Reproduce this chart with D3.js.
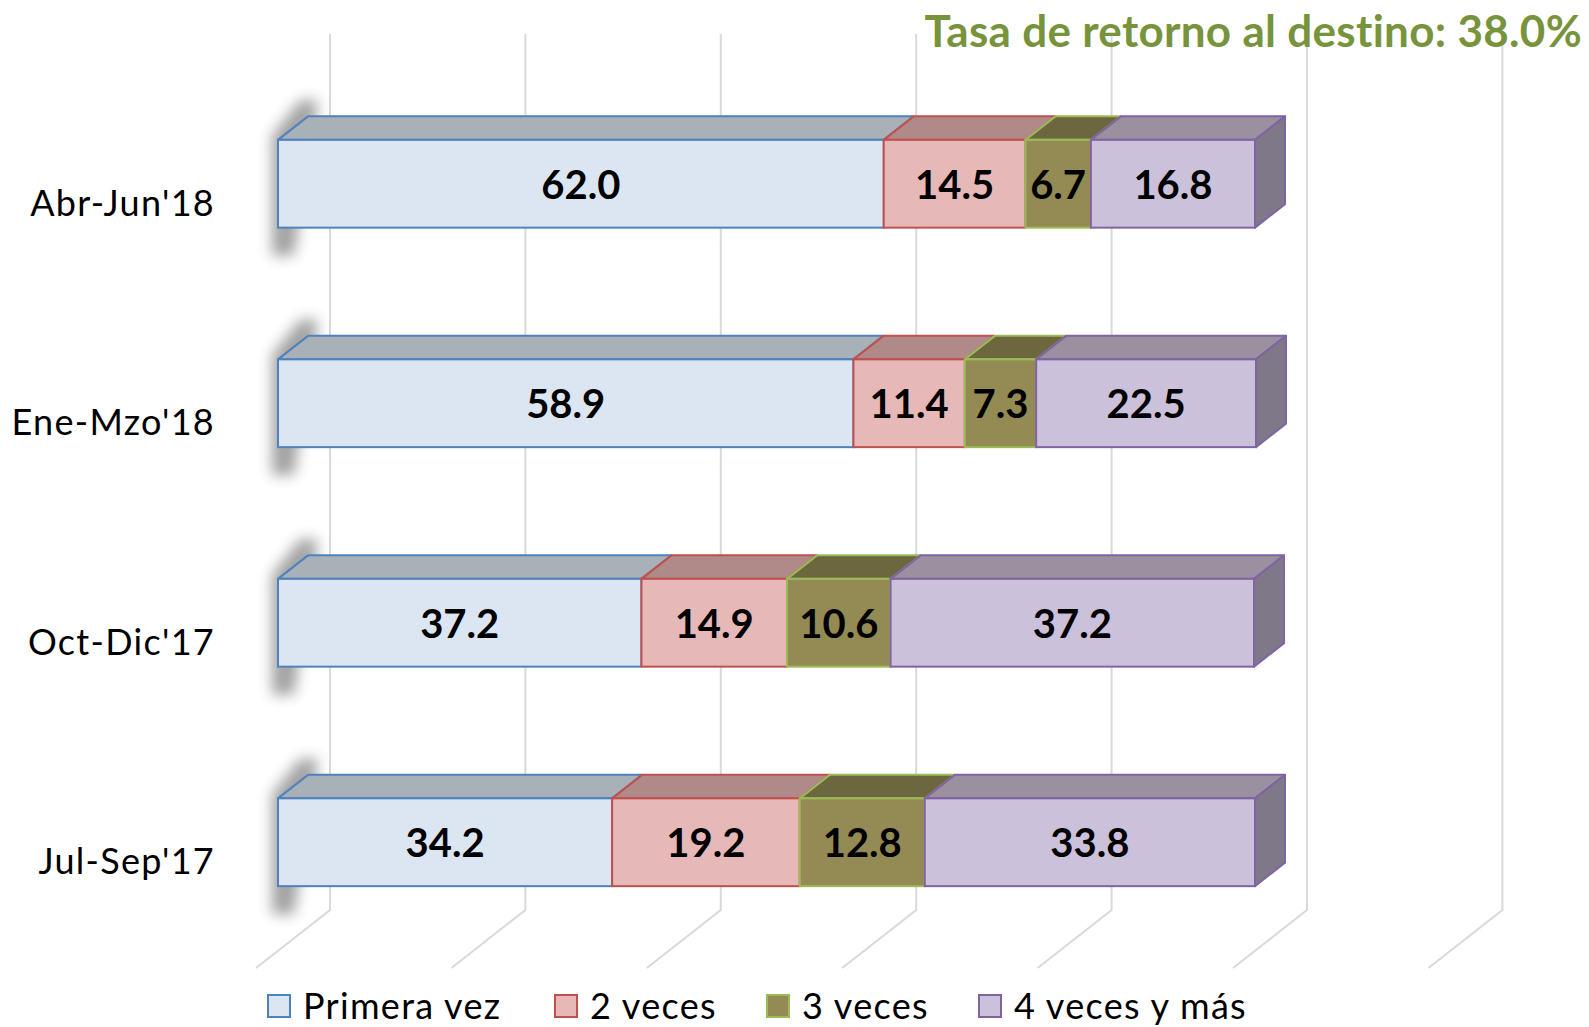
<!DOCTYPE html>
<html>
<head>
<meta charset="utf-8">
<script src="https://cdn.jsdelivr.net/npm/d3@7"></script>
<style>
  body { margin: 0; background: #fff; }
  text { font-family: Lato, "Open Sans", sans-serif; }
</style>
</head>
<body>
<div id="chart-area"></div>
<script>
// categories top to bottom
const categories = ["Abr-Jun'18", "Ene-Mzo'18", "Oct-Dic'17", "Jul-Sep'17"];
const seriesNames = ["Primera vez", "2 veces", "3 veces", "4 veces y más"];
const primeraVez = [62.0, 58.9, 37.2, 34.2];
const dosVeces = [14.5, 11.4, 14.9, 19.2];
const tresVeces = [6.7, 7.3, 10.6, 12.8];
const cuatroVeces = [16.8, 22.5, 37.2, 33.8];
const gridTicks = [0, 20, 40, 60, 80, 100, 120];
const titleText = "Tasa de retorno al destino: 38.0%";

const seriesValues = [primeraVez, dosVeces, tresVeces, cuatroVeces];
const frontColors = ["#DCE6F2", "#E6B9B8", "#948A54", "#CCC1DA"];
const topColors = ["#A8B0B8", "#B08A89", "#6D6740", "#9A909F"];
const sideColors = ["#7E8893", "#8C6A69", "#58532F", "#7F7889"];
const strokeColors = ["#4F81BD", "#C0504D", "#9BBB59", "#8064A2"];

const svgWidth = 1589;
const svgHeight = 1027;
const svg = d3.select("#chart-area")
              .append("svg")
              .attr("width", svgWidth)
              .attr("height", svgHeight);

const x = d3.scaleLinear()
            .domain([0, 120])
            .range([278, 1450.4]);

const y = d3.scaleBand()
            .domain(categories)
            .range([74, 952])
            .paddingInner(0.6)
            .paddingOuter(0.3);

// oblique depth vectors
const depth = { dx: 30, dy: 23.5 };
const wall = { dx: 52, dy: 41 };
const floorFront = { dx: -22, dy: -17 };
const wallTop = 34;
const wallBottom = 910;

const defs = svg.append("defs");
defs.append("filter")
    .attr("id", "blur")
    .attr("x", "-100%").attr("y", "-50%")
    .attr("width", "300%").attr("height", "200%")
    .append("feGaussianBlur")
    .attr("stdDeviation", 7);

// gridlines: on the back wall, then down across the floor
const grid = svg.append("g");
grid.selectAll("path")
    .data(gridTicks)
    .enter()
    .append("path")
    .attr("d", d => {
      const xw = x(d) + wall.dx;
      const xf = x(d) + floorFront.dx;
      const yf = wallBottom + (wall.dy - floorFront.dy);
      return `M${xw},${wallTop}L${xw},${wallBottom}L${xf},${yf}`;
    })
    .attr("fill", "none")
    .attr("stroke", "#D9D9D9")
    .attr("stroke-width", 2);

// title
svg.append("text")
   .attr("x", 1582)
   .attr("y", 47)
   .attr("text-anchor", "end")
   .attr("font-size", 44)
   .attr("font-weight", "bold")
   .attr("letter-spacing", 0.3)
   .attr("fill", "#77933C")
   .text(titleText);

// stacked rows
const rows = categories.map((c, i) => {
  let acc = 0;
  const segs = seriesValues.map((vals, s) => {
    const seg = { cat: c, s: s, v: vals[i], x0: acc, x1: acc + vals[i] };
    acc += vals[i];
    return seg;
  });
  return { cat: c, segs: segs };
});

const rowG = svg.selectAll("g.row")
                .data(rows)
                .enter()
                .append("g")
                .attr("class", "row");

// soft shadow at the left end
rowG.append("polygon")
    .attr("points", d => {
      const x0 = x(0);
      const yT = y(d.cat);
      const yB = yT + y.bandwidth();
      return [
        [x0 - 6, yT - 4],
        [x0 + depth.dx - 8, yT - depth.dy - 16],
        [x0 + depth.dx + 10, yT - depth.dy - 16],
        [x0 + 16, yB + 28],
        [x0 - 6, yB + 28]
      ].join(" ");
    })
    .attr("fill", "#333")
    .attr("opacity", 0.45)
    .attr("filter", "url(#blur)");

rowG.each(function(row) {
  const g = d3.select(this);
  const yT = y(row.cat);
  const yB = yT + y.bandwidth();
  const last = row.segs.length - 1;

  row.segs.forEach((seg, k) => {
    const a = x(seg.x0);
    const b = x(seg.x1);
    // top face
    g.append("polygon")
     .attr("points", [[a, yT], [b, yT], [b + depth.dx, yT - depth.dy], [a + depth.dx, yT - depth.dy]].join(" "))
     .attr("fill", topColors[seg.s])
     .attr("stroke", strokeColors[seg.s])
     .attr("stroke-width", 2)
     .attr("stroke-linejoin", "round");
    // right side face, only visible at the end
    if (k === last) {
      g.append("polygon")
       .attr("points", [[b, yT], [b + depth.dx, yT - depth.dy], [b + depth.dx, yB - depth.dy], [b, yB]].join(" "))
       .attr("fill", sideColors[seg.s])
       .attr("stroke", strokeColors[seg.s])
       .attr("stroke-width", 2)
       .attr("stroke-linejoin", "round");
    }
    // front face
    g.append("rect")
     .attr("x", a)
     .attr("y", yT)
     .attr("width", b - a)
     .attr("height", yB - yT)
     .attr("fill", frontColors[seg.s])
     .attr("stroke", strokeColors[seg.s])
     .attr("stroke-width", 2);
  });

  // value labels
  g.selectAll("text.val")
   .data(row.segs)
   .enter()
   .append("text")
   .attr("class", "val")
   .attr("x", d => (x(d.x0) + x(d.x1)) / 2)
   .attr("y", (yT + yB) / 2 + 15)
   .attr("text-anchor", "middle")
   .attr("font-size", 40)
   .attr("font-weight", "bold")
   .attr("fill", "#000")
   .text(d => d.v.toFixed(1));
});

// category labels
svg.selectAll("text.cat")
   .data(categories)
   .enter()
   .append("text")
   .attr("class", "cat")
   .attr("x", 215)
   .attr("y", d => y(d) + y.bandwidth() / 2 + 32)
   .attr("text-anchor", "end")
   .attr("font-size", 36)
   .attr("letter-spacing", 1.3)
   .attr("fill", "#000")
   .text(d => d);

// legend
const legendX = [268, 555, 767, 979];
const legend = svg.selectAll("g.legend")
                  .data(seriesNames)
                  .enter()
                  .append("g")
                  .attr("class", "legend")
                  .attr("transform", (d, i) => `translate(${legendX[i]},995)`);

legend.append("rect")
      .attr("width", 22)
      .attr("height", 22)
      .attr("fill", (d, i) => frontColors[i])
      .attr("stroke", (d, i) => strokeColors[i])
      .attr("stroke-width", 2);

legend.append("text")
      .attr("x", 35)
      .attr("y", 24)
      .attr("font-size", 36)
      .attr("letter-spacing", 1.3)
      .attr("fill", "#000")
      .text(d => d);
</script>
</body>
</html>
